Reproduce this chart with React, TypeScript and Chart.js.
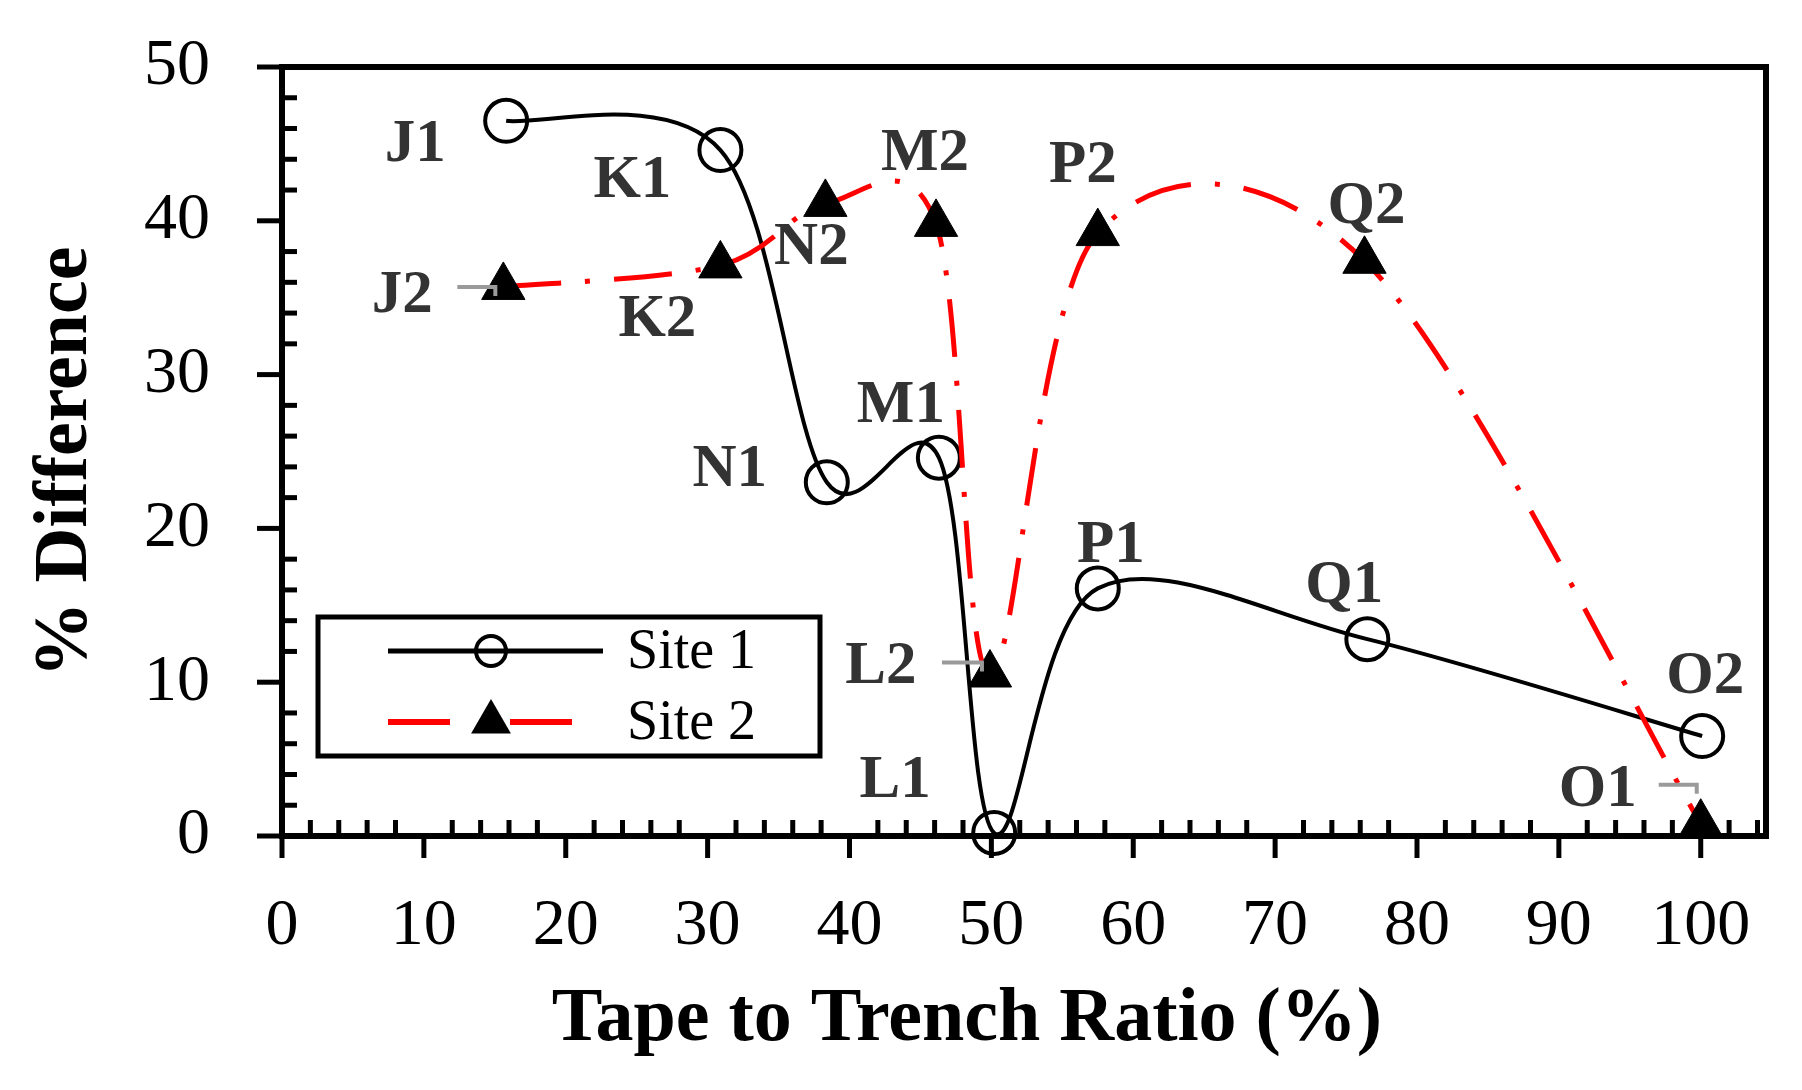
import { useEffect, useRef } from 'react';
import { Chart, registerables } from 'chart.js';

Chart.register(...registerables);

// ---------- data ----------
const site1Names = ['J1', 'K1', 'N1', 'M1', 'L1', 'P1', 'Q1', 'O2'];
const site1X = [15.8, 30.9, 38.4, 46.3, 50.2, 57.5, 76.5, 100.1];
const site1Y = [46.5, 44.6, 23.0, 24.6, 0.2, 16.1, 12.8, 6.5];

const site2Names = ['J2', 'K2', 'N2', 'M2', 'L2', 'P2', 'Q2', 'O1'];
const site2X = [15.6, 30.9, 38.3, 46.1, 49.9, 57.5, 76.3, 100.0];
const site2Y = [35.7, 37.1, 41.1, 39.8, 10.5, 39.2, 37.4, 0.8];

const xTicks = [0, 10, 20, 30, 40, 50, 60, 70, 80, 90, 100];
const yTicks = [0, 10, 20, 30, 40, 50];

const seriesLabels = ['Site 1', 'Site 2'];
const xTitle = 'Tape to Trench Ratio (%)';
const yTitle = '% Difference';

// ---------- styling (label placement relative to the marker, px) ----------
const FONT = '"Liberation Serif", "Times New Roman", serif';
const labelOffsets1 = [[-91, 24], [-88, 31], [-97, -12], [-38, -51], [-99, -52], [13, -42], [-23, -53], [3, -59]];
const labelOffsets2 = [[-101, 9], [-63, 55], [-14, 44], [-11, -70], [-109, -7], [-15, -67], [2, -54], [-103, -33]];
// leader marks: [datasetIndex, pointIndex, dxStart, dxEnd, dy]
const leaders = [[1, 0, -46, -8, 0], [1, 4, -48, -8, -12], [1, 7, -42, -4, -39]];

// Excel-style smoothing: uniform Catmull-Rom control points on the library's own point elements
const smoothPlugin = {
  id: 'excelSmooth',
  beforeDatasetDraw(chart: any, args: any) {
    const meta = args.meta;
    const pts = meta.data;
    const n = pts.length;
    for (let i = 0; i < n; i++) {
      const p = pts[i];
      const prev = pts[Math.max(i - 1, 0)];
      const next = pts[Math.min(i + 1, n - 1)];
      const dx = (next.x - prev.x) / 6;
      const dy = (next.y - prev.y) / 6;
      p.cp1x = p.x - dx;
      p.cp1y = p.y - dy;
      p.cp2x = p.x + dx;
      p.cp2y = p.y + dy;
    }
    if (meta.dataset) {
      meta.dataset._pointsUpdated = true;
      delete meta.dataset._path;
    }
  },
};

const framePlugin = {
  id: 'frameTicks',
  beforeDatasetsDraw(chart: any) {
    const { ctx, chartArea, scales } = chart;
    const { left, right, top, bottom } = chartArea;
    const x = scales.x;
    const y = scales.y;
    ctx.save();
    ctx.strokeStyle = '#000';
    ctx.lineCap = 'butt';
    const line = (x1: number, y1: number, x2: number, y2: number) => {
      ctx.beginPath();
      ctx.moveTo(x1, y1);
      ctx.lineTo(x2, y2);
      ctx.stroke();
    };
    ctx.lineWidth = 5;
    yTicks.forEach((v) => {
      const py = y.getPixelForValue(v);
      line(left - 25, py, left, py);
    });
    for (let v = 2; v < 50; v += 2) {
      if (v % 10 === 0) continue;
      const py = y.getPixelForValue(v);
      line(left, py, left + 15, py);
    }
    xTicks.forEach((v) => {
      const px = x.getPixelForValue(v);
      line(px, bottom, px, bottom + 22);
    });
    for (let v = 2; v <= 104; v += 2) {
      if (v % 10 === 0) continue;
      const px = x.getPixelForValue(v);
      line(px, bottom, px, bottom - 16);
    }
    ctx.lineWidth = 6;
    ctx.lineJoin = 'miter';
    ctx.strokeRect(left, top, right - left, bottom - top);

    // axis titles
    ctx.fillStyle = '#000';
    ctx.font = `bold 76px ${FONT}`;
    ctx.textAlign = 'center';
    ctx.textBaseline = 'alphabetic';
    ctx.fillText(xTitle, 967, 1040);
    ctx.save();
    ctx.translate(86, 462);
    ctx.rotate(-Math.PI / 2);
    ctx.fillText(yTitle, 0, 0);
    ctx.restore();
    ctx.restore();
  },
};

const labelPlugin = {
  id: 'pointNames',
  afterDatasetsDraw(chart: any) {
    const { ctx } = chart;
    ctx.save();
    ctx.strokeStyle = '#9a9a9a';
    ctx.lineWidth = 4;
    leaders.forEach(([di, pi, dx1, dx2, dy]) => {
      const el = chart.getDatasetMeta(di).data[pi];
      ctx.beginPath();
      ctx.moveTo(el.x + dx1, el.y + dy);
      ctx.lineTo(el.x + dx2, el.y + dy);
      ctx.lineTo(el.x + dx2, el.y + dy + 9);
      ctx.stroke();
    });
    ctx.font = `bold 61px ${FONT}`;
    ctx.fillStyle = '#333';
    ctx.textAlign = 'center';
    ctx.textBaseline = 'middle';
    const sets = [
      { names: site1Names, offsets: labelOffsets1 },
      { names: site2Names, offsets: labelOffsets2 },
    ];
    sets.forEach((set, di) => {
      const meta = chart.getDatasetMeta(di);
      set.names.forEach((name, i) => {
        const el = meta.data[i];
        ctx.fillText(name, el.x + set.offsets[i][0], el.y + set.offsets[i][1]);
      });
    });
    ctx.restore();
  },
};

const legendPlugin = {
  id: 'insideLegend',
  afterDraw(chart: any) {
    const { ctx } = chart;
    const ds = chart.data.datasets;
    ctx.save();
    ctx.strokeStyle = '#000';
    ctx.lineWidth = 5;
    ctx.fillStyle = '#fff';
    ctx.fillRect(318, 617, 502, 139);
    ctx.strokeRect(318, 617, 502, 139);
    const r1 = 651;
    ctx.strokeStyle = ds[0].borderColor;
    ctx.lineWidth = 5;
    ctx.beginPath();
    ctx.moveTo(388, r1);
    ctx.lineTo(603, r1);
    ctx.stroke();
    ctx.lineWidth = 4;
    ctx.beginPath();
    ctx.arc(491, r1, 15, 0, Math.PI * 2);
    ctx.stroke();
    const r2 = 722;
    ctx.strokeStyle = ds[1].borderColor;
    ctx.lineWidth = 6;
    ctx.beginPath();
    ctx.moveTo(388, r2);
    ctx.lineTo(450, r2);
    ctx.moveTo(510, r2);
    ctx.lineTo(572, r2);
    ctx.stroke();
    const tr = 23;
    ctx.fillStyle = '#000';
    ctx.beginPath();
    ctx.moveTo(491, r2 - tr);
    ctx.lineTo(491 + 0.866 * tr, r2 + 0.5 * tr);
    ctx.lineTo(491 - 0.866 * tr, r2 + 0.5 * tr);
    ctx.closePath();
    ctx.fill();
    ctx.fillStyle = '#000';
    ctx.font = `56px ${FONT}`;
    ctx.textAlign = 'left';
    ctx.textBaseline = 'middle';
    ctx.fillText(ds[0].label, 627, r1 + 2);
    ctx.fillText(ds[1].label, 627, r2 + 2);
    ctx.restore();
  },
};

export default function App() {
  const ref = useRef<HTMLCanvasElement | null>(null);

  useEffect(() => {
    if (!ref.current) return;
    const chart = new Chart(ref.current, {
      type: 'line',
      data: {
        datasets: [
          {
            label: seriesLabels[0],
            data: site1X.map((x, i) => ({ x, y: site1Y[i] })),
            borderColor: '#000000',
            borderWidth: 4,
            tension: 0.4,
            pointStyle: 'circle',
            pointRadius: 21,
            pointBorderWidth: 4,
            pointBorderColor: '#000000',
            pointBackgroundColor: 'rgba(0,0,0,0)',
            clip: false,
            order: 2,
          },
          {
            label: seriesLabels[1],
            data: site2X.map((x, i) => ({ x, y: site2Y[i] })),
            borderColor: '#ff0000',
            borderWidth: 5,
            borderDash: [58, 24, 5, 24],
            tension: 0.4,
            pointStyle: 'triangle',
            pointRadius: 25,
            pointBorderWidth: 1,
            pointBorderColor: '#000000',
            pointBackgroundColor: '#000000',
            clip: false,
            order: 1,
          },
        ],
      } as any,
      options: {
        animation: false,
        responsive: false,
        devicePixelRatio: 1,
        layout: { padding: { top: 67, right: 36, left: 0, bottom: 0 } },
        plugins: {
          legend: { display: false },
          tooltip: { enabled: false },
        },
        scales: {
          x: {
            type: 'linear',
            min: 0,
            max: 104.6,
            afterFit: (s: any) => {
              s.height = 254;
              s.paddingLeft = 0;
              s.paddingRight = 0;
            },
            afterBuildTicks: (s: any) => {
              s.ticks = xTicks.map((v) => ({ value: v }));
            },
            grid: { display: false, drawTicks: false },
            border: { display: false },
            ticks: {
              font: { family: FONT, size: 66 },
              color: '#000',
              padding: 51,
              maxRotation: 0,
              autoSkip: false,
            },
            title: { display: false },
          },
          y: {
            type: 'linear',
            min: 0,
            max: 50,
            afterFit: (s: any) => {
              s.width = 282;
              s.paddingTop = 0;
              s.paddingBottom = 0;
            },
            afterBuildTicks: (s: any) => {
              s.ticks = yTicks.map((v) => ({ value: v }));
            },
            grid: { display: false, drawTicks: false },
            border: { display: false },
            ticks: {
              font: { family: FONT, size: 66 },
              color: '#000',
              padding: 72,
            },
            title: { display: false },
          },
        },
      } as any,
      plugins: [smoothPlugin, framePlugin, labelPlugin, legendPlugin],
    });
    return () => chart.destroy();
  }, []);

  return (
    <div style={{ position: 'fixed', left: 0, top: 0, width: 1802, height: 1090, background: '#fff' }}>
      <canvas ref={ref} width={1802} height={1090} style={{ width: 1802, height: 1090 }} />
    </div>
  );
}
